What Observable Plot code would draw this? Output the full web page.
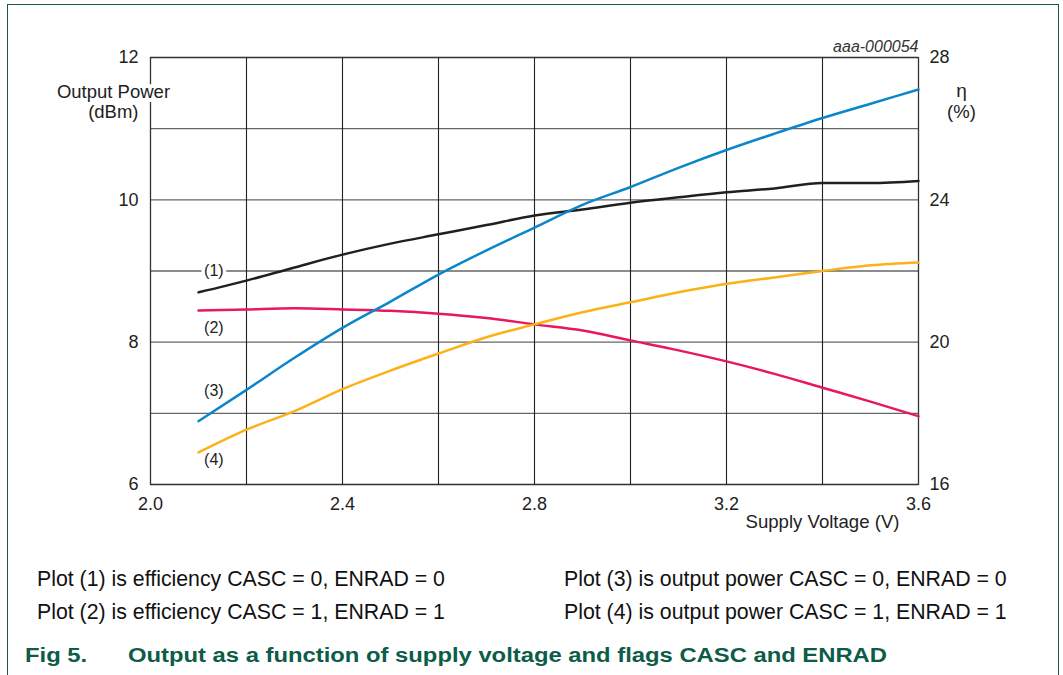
<!DOCTYPE html>
<html>
<head>
<meta charset="utf-8">
<script src="https://cdn.jsdelivr.net/npm/d3@7"></script>
<script src="https://cdn.jsdelivr.net/npm/@observablehq/plot@0.6"></script>
<style>
  html, body { margin: 0; padding: 0; background: #fff; overflow: hidden; }
  #wrap { position: relative; width: 1063px; height: 675px; font-family: "Liberation Sans", Arial, Helvetica, sans-serif; color: #222; }
  #chart { position: absolute; left: 0; top: 0; }
  .border { position: absolute; left: 7px; top: 4px; width: 1052px; height: 700px; border-left: 1.5px solid #165a4a; border-top: 1.5px solid #165a4a; border-right: 1.5px solid #165a4a; box-sizing: border-box; pointer-events: none; }
  .note { position: absolute; font-size: 21.3px; line-height: 21px; white-space: nowrap; color: #111; }
  .fig { position: absolute; font-size: 20px; line-height: 20px; font-weight: bold; color: #0d5c47; white-space: nowrap; transform: scaleX(1.19); transform-origin: left top; }
</style>
</head>
<body>
<div id="wrap">
  <div id="chart"></div>
  <div class="note" style="left:37px; top:569px;">Plot (1) is efficiency CASC = 0, ENRAD = 0</div>
  <div class="note" style="left:37px; top:602px;">Plot (2) is efficiency CASC = 1, ENRAD = 1</div>
  <div class="note" style="left:564px; top:569px;">Plot (3) is output power CASC = 0, ENRAD = 0</div>
  <div class="note" style="left:564px; top:602px;">Plot (4) is output power CASC = 1, ENRAD = 1</div>
  <div class="fig" style="left:25px; top:645px;">Fig 5.</div>
  <div class="fig" style="left:128px; top:645px;">Output as a function of supply voltage and flags CASC and ENRAD</div>
  <div class="border"></div>
</div>
<script>
// ---- data ----
const volts = [2.1, 2.2, 2.3, 2.4, 2.5, 2.6, 2.7, 2.8, 2.9, 3.0, 3.1, 3.2, 3.3, 3.4, 3.5, 3.6];
// efficiency (%) – right axis
const eff1 = [21.40, 21.73, 22.10, 22.46, 22.77, 23.03, 23.29, 23.56, 23.73, 23.92, 24.07, 24.21, 24.32, 24.47, 24.47, 24.53];
const eff2 = [20.89, 20.92, 20.95, 20.92, 20.88, 20.80, 20.68, 20.50, 20.33, 20.05, 19.77, 19.46, 19.11, 18.72, 18.33, 17.92];
// output power (dBm) – left axis
const pow3 = [6.89, 7.33, 7.78, 8.20, 8.57, 8.95, 9.29, 9.61, 9.93, 10.18, 10.45, 10.70, 10.93, 11.15, 11.35, 11.55];
const pow4 = [6.45, 6.77, 7.03, 7.34, 7.60, 7.84, 8.07, 8.25, 8.42, 8.56, 8.70, 8.82, 8.91, 9.00, 9.08, 9.12];

const xGrid = [2.0, 2.2, 2.4, 2.6, 2.8, 3.0, 3.2, 3.4, 3.6];
const xTicks = [2.0, 2.4, 2.8, 3.2, 3.6];
const yGrid = [6, 7, 8, 9, 10, 11, 12];
const yTicks = [6, 8, 10, 12];
const etaTicks = [16, 20, 24, 28];

const curveLabels = ["(1)", "(2)", "(3)", "(4)"];
const curveLabelX = [2.132, 2.132, 2.132, 2.132];
const curveLabelY = [9.0, 8.2, 7.31, 6.35];

const colors = {c1: "#231f20", c2: "#e8185a", c3: "#0b87c9", c4: "#fbb117"};

// map efficiency (%) onto the dBm scale: 16..28 % <-> 6..12 dBm
const effToY = p => 6 + (p - 16) / 2;
const yToEff = d => 16 + (d - 6) * 2;

const s1 = volts.map((v, i) => ({v, y: effToY(eff1[i])}));
const s2 = volts.map((v, i) => ({v, y: effToY(eff2[i])}));
const s3 = volts.map((v, i) => ({v, y: pow3[i]}));
const s4 = volts.map((v, i) => ({v, y: pow4[i]}));
const lbl = curveLabels.map((t, i) => ({t, x: curveLabelX[i], y: curveLabelY[i]}));

const lineOpts = c => ({x: "v", y: "y", stroke: c, strokeWidth: 2.5, curve: "monotone-x"});

const chart = Plot.plot({
  width: 1063,
  height: 545,
  marginTop: 57,
  marginBottom: 61,
  marginLeft: 150,
  marginRight: 145,
  style: {fontFamily: "'Liberation Sans', Arial, Helvetica, sans-serif", fontSize: "18px", color: "#222", background: "transparent"},
  x: {domain: [2.0, 3.6]},
  y: {domain: [6, 12]},
  marks: [
    Plot.ruleY(yGrid, {stroke: "#666", strokeWidth: 1.4}),
    Plot.ruleX(xGrid, {stroke: "#222", strokeWidth: 1.1}),
    Plot.frame({stroke: "#333", strokeWidth: 1.2}),
    Plot.text(lbl, {x: "x", y: "y", text: "t", fontSize: 16, fill: "#222", stroke: "white", strokeWidth: 7}),
    Plot.line(s1, lineOpts(colors.c1)),
    Plot.line(s2, lineOpts(colors.c2)),
    Plot.line(s4, lineOpts(colors.c4)),
    Plot.line(s3, lineOpts(colors.c3)),
    Plot.axisX({ticks: xTicks, tickFormat: d3.format(".1f"), tickSize: 0, tickPadding: 13, fontSize: 18, label: null}),
    Plot.axisY({anchor: "left", ticks: yTicks, tickFormat: d => String(d), tickSize: 0, tickPadding: 12, fontSize: 18, label: null}),
    Plot.axisY({anchor: "right", ticks: etaTicks.map(effToY), tickFormat: d => String(yToEff(d)), tickSize: 0, tickPadding: 11, fontSize: 18, label: null}),
    Plot.text(["Output Power"], {frameAnchor: "top-left", dx: -37, dy: 40, lineAnchor: "bottom", textAnchor: "middle", fontSize: 18.5, fill: "#222", stroke: "white", strokeWidth: 8}),
    Plot.text(["(dBm)"], {frameAnchor: "top-left", dx: -12, dy: 60, lineAnchor: "bottom", textAnchor: "end", fontSize: 18.5, fill: "#222"}),
    Plot.text(["η"], {frameAnchor: "top-right", dx: 43, dy: 39, lineAnchor: "bottom", textAnchor: "middle", fontSize: 19, fill: "#222"}),
    Plot.text(["(%)"], {frameAnchor: "top-right", dx: 43, dy: 60, lineAnchor: "bottom", textAnchor: "middle", fontSize: 18.5, fill: "#222"}),
    Plot.text(["aaa-000054"], {frameAnchor: "top-right", dx: 0, dy: -6, lineAnchor: "bottom", textAnchor: "end", fontSize: 16, fontStyle: "italic", fill: "#333"}),
    Plot.text(["Supply Voltage (V)"], {frameAnchor: "bottom-right", dx: -19, dy: 43, lineAnchor: "bottom", textAnchor: "end", fontSize: 18.6, fill: "#222"})
  ]
});
document.getElementById("chart").appendChild(chart);
</script>
</body>
</html>
